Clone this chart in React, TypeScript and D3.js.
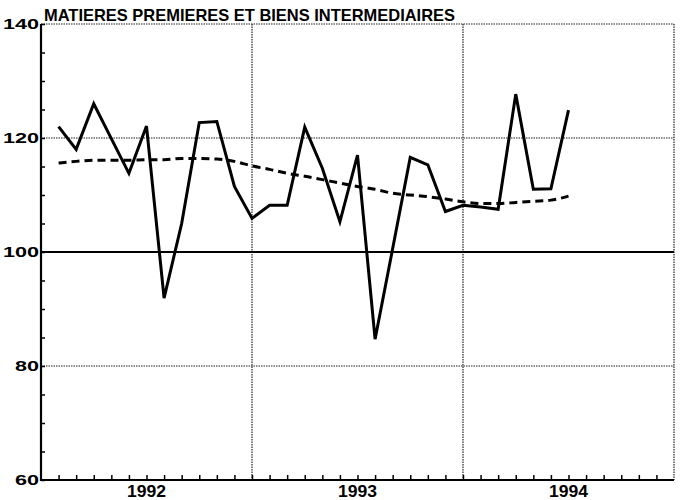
import React, { useEffect, useRef } from "react";
import * as d3 from "d3";

// monthly observations, Feb 1992 .. Jul 1994
const MONTHS = [
  "1992-02", "1992-03", "1992-04", "1992-05", "1992-06", "1992-07", "1992-08", "1992-09", "1992-10", "1992-11", "1992-12",
  "1993-01", "1993-02", "1993-03", "1993-04", "1993-05", "1993-06", "1993-07", "1993-08", "1993-09", "1993-10", "1993-11", "1993-12",
  "1994-01", "1994-02", "1994-03", "1994-04", "1994-05", "1994-06", "1994-07",
];
const INDEX = [
  122.0, 118.0, 126.0, 119.9, 113.8, 122.1, 91.9, 105.0, 122.7, 122.9, 111.5,
  105.9, 108.2, 108.2, 121.9, 114.7, 105.3, 117.0, 84.7, 100.6, 116.6, 115.3, 107.1,
  108.2, 107.9, 107.5, 127.7, 111.0, 111.1, 124.9,
];
const TREND = [
  115.6, 115.9, 116.1, 116.1, 116.1, 116.2, 116.2, 116.4, 116.4, 116.3, 115.9,
  115.1, 114.5, 113.8, 113.3, 112.7, 112.1, 111.5, 111.0, 110.3, 110.0, 109.7, 109.3,
  108.8, 108.5, 108.5, 108.7, 108.9, 109.1, 109.8,
];
const YEARS = ["1992", "1993", "1994"];
const Y_TICKS = [60, 80, 100, 120, 140];
const TITLE = "MATIERES PREMIERES ET BIENS INTERMEDIAIRES";

const FONT = "'Liberation Sans', Arial, Helvetica, sans-serif";

function monthIndex(s: string) {
  const [yy, mm] = s.split("-").map(Number);
  return (yy - 1992) * 12 + (mm - 1);
}

export default function App() {
  const ref = useRef<SVGSVGElement>(null);

  useEffect(() => {
    const svg = d3.select(ref.current);
    svg.selectAll("*").remove();

    const x = d3.scaleLinear().domain([0, 36]).range([41, 674]);
    const y = d3.scaleLinear().domain([60, 140]).range([480, 24]);

    const pts = MONTHS.map((m, i) => ({ k: monthIndex(m), v: INDEX[i], t: TREND[i] }));

    // grid
    const grid = svg.append("g");
    [80, 120, 140].forEach((v) => {
      grid.append("line")
        .attr("x1", x(0)).attr("x2", x(36))
        .attr("y1", y(v)).attr("y2", y(v))
        .attr("stroke", "#222").attr("stroke-width", 1.2)
        .attr("stroke-dasharray", "1.5 1");
    });
    [12, 24, 36].forEach((k) => {
      grid.append("line")
        .attr("x1", x(k)).attr("x2", x(k))
        .attr("y1", y(140)).attr("y2", y(60))
        .attr("stroke", "#222").attr("stroke-width", 1.2)
        .attr("stroke-dasharray", "1.5 1");
    });
    grid.append("line")
      .attr("x1", x(0)).attr("x2", x(36))
      .attr("y1", y(100)).attr("y2", y(100))
      .attr("stroke", "#000").attr("stroke-width", 2.2);

    // minor y ticks
    const yMinor = svg.append("g")
      .attr("transform", `translate(${x(0)},0)`)
      .call(d3.axisRight(y).tickValues(d3.range(60, 141, 5)).tickSize(4).tickFormat(() => ""));
    yMinor.select(".domain").remove();
    yMinor.selectAll("line").attr("stroke", "#000").attr("stroke-width", 1.5);

    // month ticks
    const xMinor = svg.append("g")
      .attr("transform", `translate(0,${y(60)})`)
      .call(d3.axisTop(x).tickValues(d3.range(1, 36)).tickSize(5).tickFormat(() => ""));
    xMinor.select(".domain").remove();
    xMinor.selectAll("line").attr("stroke", "#000").attr("stroke-width", 1.5);

    // axes lines
    svg.append("line")
      .attr("x1", x(0)).attr("x2", x(0))
      .attr("y1", y(140)).attr("y2", y(60) + 1)
      .attr("stroke", "#000").attr("stroke-width", 2.2);
    svg.append("line")
      .attr("x1", x(0)).attr("x2", x(36))
      .attr("y1", y(60)).attr("y2", y(60))
      .attr("stroke", "#000").attr("stroke-width", 2.2);

    // y labels
    svg.append("g").selectAll("text")
      .data(Y_TICKS)
      .enter()
      .append("text")
      .attr("x", x(0) - 2)
      .attr("y", (d) => y(d) + 5)
      .attr("text-anchor", "end")
      .attr("font-family", FONT)
      .attr("font-weight", "bold")
      .attr("font-size", 15)
      .attr("textLength", (d) => String(d).length * 12)
      .attr("lengthAdjust", "spacingAndGlyphs")
      .text((d) => d);

    // year labels
    svg.append("g").selectAll("text")
      .data(YEARS)
      .enter()
      .append("text")
      .attr("x", (d, i) => x(i * 12 + 6))
      .attr("y", 497)
      .attr("text-anchor", "middle")
      .attr("font-family", FONT)
      .attr("font-weight", "bold")
      .attr("font-size", 16)
      .attr("textLength", 39)
      .attr("lengthAdjust", "spacingAndGlyphs")
      .text((d) => d);

    // title
    svg.append("text")
      .attr("x", 44)
      .attr("y", 20.5)
      .attr("font-family", FONT)
      .attr("font-weight", "bold")
      .attr("font-size", 17)
      .attr("textLength", 411)
      .attr("lengthAdjust", "spacingAndGlyphs")
      .text(TITLE);

    const trendLine = d3.line<any>().x((d) => x(d.k)).y((d) => y(d.t)).curve(d3.curveMonotoneX);
    const indexLine = d3.line<any>().x((d) => x(d.k)).y((d) => y(d.v));

    svg.append("path")
      .datum(pts)
      .attr("d", trendLine)
      .attr("fill", "none")
      .attr("stroke", "#000")
      .attr("stroke-width", 3)
      .attr("stroke-dasharray", "8 5");

    svg.append("path")
      .datum(pts)
      .attr("d", indexLine)
      .attr("fill", "none")
      .attr("stroke", "#000")
      .attr("stroke-width", 3)
      .attr("stroke-linejoin", "miter");
  }, []);

  return (
    <svg
      ref={ref}
      width={683}
      height={500}
      style={{ position: "absolute", left: 0, top: 0, background: "#fff" }}
    />
  );
}
